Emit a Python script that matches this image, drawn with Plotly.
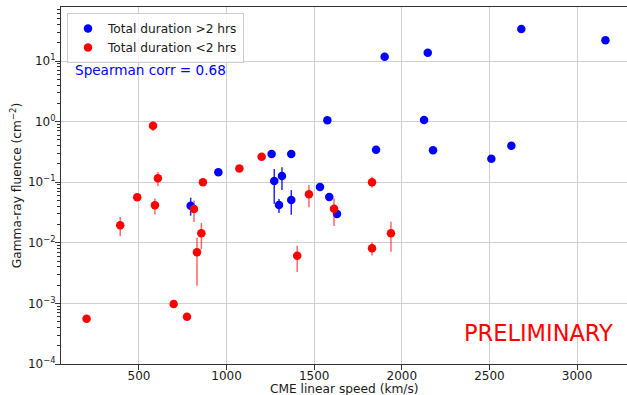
import plotly.graph_objects as go

# Total duration > 2 hrs (blue)
blue_speed = [795, 953, 1257, 1272, 1299, 1316, 1369, 1369, 1533, 1575, 1586, 1630,
              1853, 1902, 2127, 2148, 2178, 2511, 2625, 2682, 3162]
blue_flu = [0.041, 0.146, 0.292, 0.105, 0.042, 0.126, 0.292, 0.051, 0.083, 1.05, 0.057, 0.030,
            0.344, 11.8, 1.06, 13.7, 0.336, 0.244, 0.40, 33.7, 21.9]
blue_hi = [0.0555, 0.146, 0.292, 0.165, 0.053, 0.176, 0.292, 0.074, 0.083, 1.05, 0.057, 0.030,
           0.344, 13.6, 1.06, 13.7, 0.336, 0.244, 0.40, 33.7, 21.9]
blue_lo = [0.028, 0.146, 0.292, 0.044, 0.031, 0.074, 0.292, 0.029, 0.083, 1.05, 0.057, 0.030,
           0.344, 10.2, 1.06, 13.7, 0.336, 0.244, 0.40, 33.7, 21.9]

# Total duration < 2 hrs (red)
red_speed = [201, 393, 490, 580, 591, 608, 698, 774, 814, 831, 856, 865,
             1073, 1200, 1403, 1470, 1613, 1830, 1830, 1938]
red_flu = [0.00056, 0.0195, 0.0564, 0.857, 0.0416, 0.116, 0.00098, 0.0006, 0.036, 0.0070, 0.0144, 0.100,
           0.169, 0.264, 0.0061, 0.063, 0.0366, 0.100, 0.0081, 0.0144]
red_hi = [0.00056, 0.0267, 0.0564, 1.0, 0.054, 0.147, 0.00098, 0.0006, 0.050, 0.0121, 0.0212, 0.104,
          0.169, 0.264, 0.0089, 0.090, 0.054, 0.123, 0.0102, 0.0223]
red_lo = [0.00056, 0.0128, 0.0564, 0.70, 0.0295, 0.086, 0.00098, 0.0006, 0.022, 0.00196, 0.0078, 0.096,
          0.169, 0.264, 0.0033, 0.0385, 0.019, 0.081, 0.0062, 0.0071]

y_tickvals = [1e-4, 1e-3, 1e-2, 1e-1, 1, 10]
y_ticktext = ["10<sup>−4</sup>", "10<sup>−3</sup>", "10<sup>−2</sup>",
              "10<sup>−1</sup>", "10<sup>0</sup>", "10<sup>1</sup>"]
x_tickvals = [500, 1000, 1500, 2000, 2500, 3000]

font_family = "DejaVu Sans"


def errs(vals, hi, lo):
    plus = [h - v for v, h in zip(vals, hi)]
    minus = [v - l for v, l in zip(vals, lo)]
    return plus, minus


fig = go.Figure()
bp, bm = errs(blue_flu, blue_hi, blue_lo)
fig.add_trace(go.Scatter(
    x=blue_speed, y=blue_flu, mode="markers", name="Total duration >2 hrs",
    marker=dict(color="#0000ff", size=8.5, symbol="circle", line=dict(width=0)),
    error_y=dict(type="data", symmetric=False, array=bp, arrayminus=bm,
                 color="rgba(0,0,255,0.85)", thickness=1.5, width=0),
))
rp, rm = errs(red_flu, red_hi, red_lo)
fig.add_trace(go.Scatter(
    x=red_speed, y=red_flu, mode="markers", name="Total duration <2 hrs",
    marker=dict(color="#ff0000", size=8.5, symbol="circle", line=dict(width=0)),
    error_y=dict(type="data", symmetric=False, array=rp, arrayminus=rm,
                 color="rgba(255,0,0,0.6)", thickness=1.5, width=0),
))

minor_vals = [m * 10.0 ** e for e in range(-4, 2) for m in range(2, 10)]

fig.update_layout(
    width=627, height=395,
    margin=dict(l=61, r=0, t=7, b=31),
    paper_bgcolor="white", plot_bgcolor="white",
    font=dict(family=font_family, size=12, color="#1a1a1a"),
    showlegend=True,
    legend=dict(x=0.0106, y=0.983, xanchor="left", yanchor="top",
                bgcolor="rgba(255,255,255,0.8)", bordercolor="#cccccc", borderwidth=1,
                font=dict(size=12.2), tracegroupgap=0, itemwidth=30),
    xaxis=dict(
        range=[55, 3285], tickvals=x_tickvals, ticks="outside", ticklen=5,
        tickcolor="#333", showline=True, linecolor="#333", linewidth=1, mirror=True,
        showgrid=True, gridcolor="#cfcfcf", gridwidth=1, zeroline=False,
        ticklabelstandoff=-4,
        automargin=False, tickfont=dict(size=12),
    ),
    yaxis=dict(
        type="log", range=[-4, 1.891], tickvals=y_tickvals, ticktext=y_ticktext,
        ticks="outside", ticklen=5, tickcolor="#333",
        showline=True, linecolor="#333", linewidth=1, mirror=False,
        showgrid=True, gridcolor="#cfcfcf", gridwidth=1, zeroline=False,
        ticklabelstandoff=-3,
        minor=dict(tickmode="array", tickvals=minor_vals, ticks="outside", ticklen=3,
                   tickcolor="#333", showgrid=False),
        title=dict(text="Gamma-ray fluence (cm<sup>−2</sup>)", standoff=3, font=dict(size=12.2)),
        automargin=False, tickfont=dict(size=12),
    ),
    annotations=[
        dict(text="CME linear speed (km/s)", xref="paper", yref="paper", x=0.5, y=-0.071,
             xanchor="center", yanchor="middle", showarrow=False,
             font=dict(size=12.2, family=font_family)),
        dict(text="Spearman corr = 0.68", xref="paper", yref="paper", x=0.021, y=0.8235,
             xanchor="left", yanchor="middle", showarrow=False,
             font=dict(size=13.6, color="#0000ff", family=font_family)),
        dict(text="PRELIMINARY", xref="paper", yref="paper", x=0.978, y=0.0875,
             xanchor="right", yanchor="middle", showarrow=False,
             font=dict(size=22.5, color="#ff0000", family=font_family)),
    ],
)

fig.write_html("out.html")
